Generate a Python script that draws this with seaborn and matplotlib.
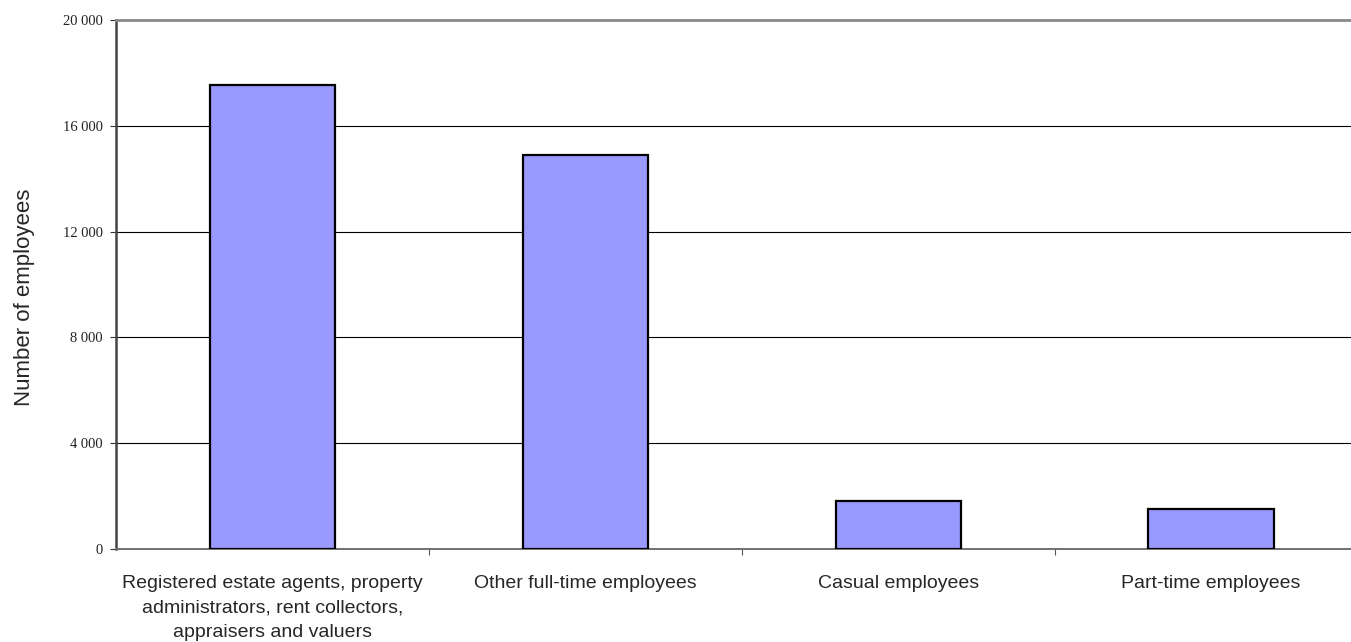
import numpy as np
import pandas as pd
import matplotlib
matplotlib.use('Agg')
import matplotlib.pyplot as plt
from matplotlib.ticker import FuncFormatter, FixedLocator
import seaborn as sns

# data
categories = ['Registered estate agents, property\nadministrators, rent collectors,\nappraisers and valuers',
              'Other full-time employees',
              'Casual employees',
              'Part-time employees']
employees = [17550, 14900, 1830, 1500]
y_ticks = [0, 4000, 8000, 12000, 16000, 20000]

df = pd.DataFrame({'category': categories, 'employees': employees})

sns.set_style('white')
plt.rcParams['font.family'] = ['Liberation Sans', 'DejaVu Sans']

fig = plt.figure(figsize=(13.51, 6.42), dpi=100)
# right edge of the plot runs past the picture, as in the reference
ax = fig.add_axes([116 / 1351, 1 - 549 / 642, 1251.5 / 1351, 529 / 642])

sns.barplot(data=df, x='category', y='employees', color='#9999FF',
            edgecolor='black', linewidth=1.6, width=0.4, saturation=1, ax=ax, zorder=3)

ax.set_xlim(-0.5, 3.5)
ax.set_ylim(0, 20000)
ax.yaxis.set_major_locator(FixedLocator(y_ticks))
ax.yaxis.set_major_formatter(FuncFormatter(lambda v, p: f"{int(v):,}".replace(',', ' ')))
ax.grid(axis='y', color='black', linewidth=0.8, zorder=1)
ax.grid(axis='x', visible=False)

ax.tick_params(axis='y', direction='out', length=4.5, width=0.8, color='#333333', pad=5, left=True)
ax.tick_params(axis='x', which='major', length=0, pad=18.5, labelsize=14)
ax.xaxis.set_minor_locator(FixedLocator([0.5, 1.5, 2.5]))
ax.tick_params(axis='x', which='minor', direction='out', length=4.5, width=0.8, color='#555555', bottom=True)

ax.set_xlabel('')
ax.set_ylabel('Number of employees', fontsize=16)
ax.yaxis.set_label_coords(-0.065, 0.476)

ax.spines['right'].set_visible(False)
ax.spines['top'].set_color('#8a8a8a')
ax.spines['top'].set_linewidth(2)
ax.spines['left'].set_color('#444444')
ax.spines['left'].set_linewidth(1.8)
ax.spines['bottom'].set_color('#707070')
ax.spines['bottom'].set_linewidth(1.4)

# tick labels are rebuilt on draw, so style them after a first draw
fig.canvas.draw()
for lab in ax.get_yticklabels():
    lab.set_family(['Liberation Serif', 'DejaVu Serif'])
    lab.set_fontsize(10.5)
    lab.set_color('#222222')
for lab in ax.get_xticklabels():
    lab.set_linespacing(1.6)

fig.savefig('out.png', dpi=100)
